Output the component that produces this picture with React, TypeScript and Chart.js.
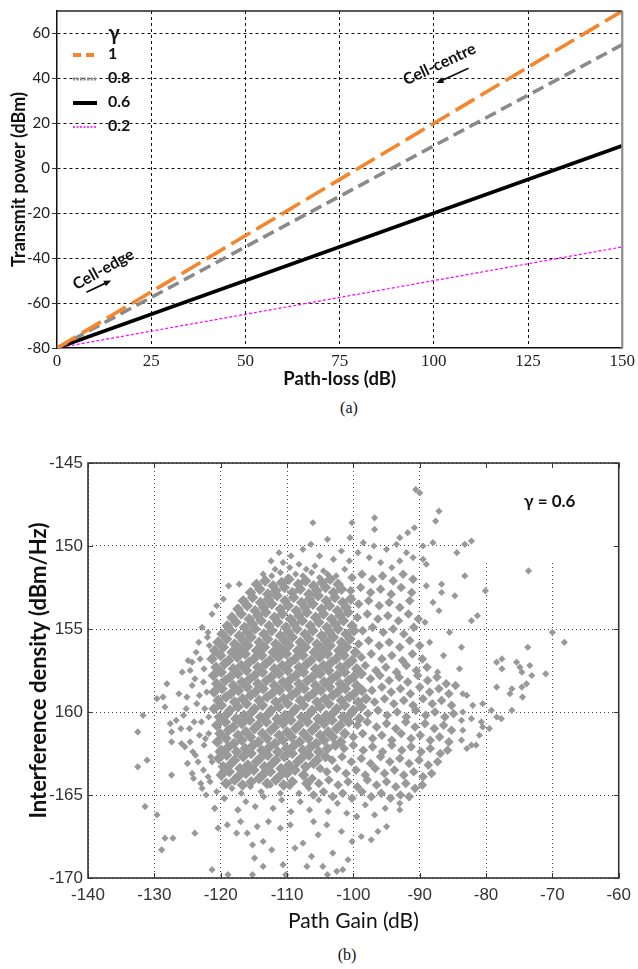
import React, { useEffect, useRef } from 'react';
import { Chart, registerables } from 'chart.js';

Chart.register(...registerables);

// ---------------- Figure (a) data ----------------
const pathLoss = [0, 150];
const gammaLabels = ['1', '0.8', '0.6', '0.2'];
const powerGamma1 = [-80, 70];
const powerGamma08 = [-80, 55];
const powerGamma06 = [-80, 10];
const powerGamma02 = [-80, -35];
const lossTicks = [0, 25, 50, 75, 100, 125, 150];
const powerTicks = [-80, -60, -40, -20, 0, 20, 40, 60];
const legendTitle = 'γ';
const cellNotes = [
  { text: 'Cell-centre', x: 101.5, y: 46.3, angle: -25, arrow: [109.2, 44.5, 100.6, 37.9] },
  { text: 'Cell-edge', x: 12.3, y: -45.0, angle: -29, arrow: [7.8, -55.2, 14.4, -49.9] },
];

// ---------------- Figure (b) data ----------------
const gainTicks = [-140, -130, -120, -110, -100, -90, -80, -70, -60];
const densityTicks = [-170, -165, -160, -155, -150, -145];
const densityTickLabels = ['-170', '-165', '160', '155', '150', '-145'];
const gammaNote = 'γ = 0.6';

// dense core of the cloud
const coreSamples: number[][] = [
  [-114.6,-152.3],[-113.3,-152.1],[-112.1,-152.4],[-110.8,-152.2],[-109.7,-152.0],[-108.3,-152.3],[-107.2,-152.1],[-106.0,-152.4],[-104.7,-152.2],[-103.5,-152.0],[-102.3,-152.3],
  [-115.5,-152.8],[-114.1,-152.6],[-112.9,-152.9],[-111.7,-152.7],[-110.4,-152.5],[-109.2,-152.8],[-108.0,-152.6],[-106.7,-152.9],[-105.5,-152.7],[-104.2,-152.5],[-103.0,-152.8],[-101.8,-152.6],
  [-116.6,-153.3],[-115.2,-153.1],[-114.0,-153.4],[-112.8,-153.2],[-111.5,-153.0],[-110.3,-153.3],[-109.0,-153.1],[-107.8,-153.4],[-106.6,-153.2],[-105.3,-153.0],[-104.1,-153.3],[-102.8,-153.1],[-101.6,-153.4],[-100.4,-153.2],
  [-117.4,-153.8],[-116.0,-153.6],[-114.8,-153.9],[-113.5,-153.7],[-112.3,-153.5],[-111.0,-153.8],[-109.8,-153.6],[-108.6,-153.9],[-107.3,-153.7],[-106.1,-153.5],[-104.8,-153.8],[-103.6,-153.6],[-102.4,-153.9],[-101.1,-153.7],
  [-118.3,-154.3],[-116.9,-154.1],[-115.7,-154.4],[-114.4,-154.2],[-113.2,-154.0],[-111.9,-154.3],[-110.7,-154.1],[-109.5,-154.4],[-108.2,-154.2],[-107.0,-154.0],[-105.7,-154.3],[-104.5,-154.1],[-103.3,-154.4],[-102.0,-154.2],[-100.8,-154.0],
  [-119.0,-154.8],[-117.7,-154.6],[-116.4,-154.9],[-115.2,-154.7],[-113.9,-154.5],[-112.7,-154.8],[-111.4,-154.6],[-110.2,-154.9],[-108.9,-154.7],[-107.7,-154.5],[-106.5,-154.8],[-105.2,-154.6],[-104.0,-154.9],[-102.7,-154.7],[-101.5,-154.5],[-100.2,-154.8],
  [-119.8,-155.3],[-118.5,-155.1],[-117.2,-155.4],[-116.0,-155.2],[-114.8,-155.0],[-113.5,-155.3],[-112.3,-155.1],[-111.0,-155.4],[-109.8,-155.2],[-108.5,-155.0],[-107.3,-155.3],[-106.1,-155.1],[-104.8,-155.4],[-103.6,-155.2],[-102.3,-155.0],[-101.1,-155.3],[-99.9,-155.1],
  [-120.4,-155.8],[-119.1,-155.6],[-117.9,-155.9],[-116.6,-155.7],[-115.4,-155.5],[-114.2,-155.8],[-112.9,-155.6],[-111.7,-155.9],[-110.4,-155.7],[-109.2,-155.5],[-108.0,-155.8],[-106.7,-155.6],[-105.5,-155.9],[-104.2,-155.7],[-103.0,-155.5],[-101.8,-155.8],[-100.5,-155.6],
  [-120.9,-156.3],[-119.6,-156.1],[-118.3,-156.4],[-117.1,-156.2],[-115.9,-156.0],[-114.6,-156.3],[-113.4,-156.1],[-112.1,-156.4],[-110.9,-156.2],[-109.7,-156.0],[-108.4,-156.3],[-107.2,-156.1],[-105.9,-156.4],[-104.7,-156.2],[-103.5,-156.0],[-102.2,-156.3],[-101.0,-156.1],[-99.7,-156.4],
  [-121.3,-156.8],[-120.0,-156.6],[-118.8,-156.9],[-117.5,-156.7],[-116.3,-156.5],[-115.0,-156.8],[-113.8,-156.6],[-112.6,-156.9],[-111.3,-156.7],[-110.1,-156.5],[-108.8,-156.8],[-107.6,-156.6],[-106.4,-156.9],[-105.1,-156.7],[-103.9,-156.5],[-102.6,-156.8],[-101.4,-156.6],[-100.2,-156.9],
  [-120.7,-157.3],[-119.4,-157.1],[-118.1,-157.4],[-116.9,-157.2],[-115.7,-157.0],[-114.4,-157.3],[-113.2,-157.1],[-111.9,-157.4],[-110.7,-157.2],[-109.5,-157.0],[-108.2,-157.3],[-107.0,-157.1],[-105.7,-157.4],[-104.5,-157.2],[-103.3,-157.0],[-102.0,-157.3],[-100.8,-157.1],[-99.5,-157.4],
  [-121.1,-157.8],[-119.9,-157.6],[-118.6,-157.9],[-117.4,-157.7],[-116.1,-157.5],[-114.9,-157.8],[-113.7,-157.6],[-112.4,-157.9],[-111.2,-157.7],[-109.9,-157.5],[-108.7,-157.8],[-107.5,-157.6],[-106.2,-157.9],[-105.0,-157.7],[-103.7,-157.5],[-102.5,-157.8],[-101.3,-157.6],[-100.0,-157.9],[-98.8,-157.7],
  [-120.6,-158.3],[-119.3,-158.1],[-118.1,-158.4],[-116.8,-158.2],[-115.6,-158.0],[-114.4,-158.3],[-113.1,-158.1],[-111.9,-158.4],[-110.6,-158.2],[-109.4,-158.0],[-108.2,-158.3],[-106.9,-158.1],[-105.7,-158.4],[-104.4,-158.2],[-103.2,-158.0],[-102.0,-158.3],[-100.7,-158.1],[-99.5,-158.4],
  [-121.0,-158.8],[-119.8,-158.6],[-118.5,-158.9],[-117.3,-158.7],[-116.0,-158.5],[-114.8,-158.8],[-113.6,-158.6],[-112.3,-158.9],[-111.1,-158.7],[-109.8,-158.5],[-108.6,-158.8],[-107.4,-158.6],[-106.1,-158.9],[-104.9,-158.7],[-103.6,-158.5],[-102.4,-158.8],[-101.2,-158.6],[-99.9,-158.9],[-98.7,-158.7],
  [-120.4,-159.3],[-119.2,-159.1],[-117.9,-159.4],[-116.7,-159.2],[-115.5,-159.0],[-114.2,-159.3],[-113.0,-159.1],[-111.7,-159.4],[-110.5,-159.2],[-109.3,-159.0],[-108.0,-159.3],[-106.8,-159.1],[-105.5,-159.4],[-104.3,-159.2],[-103.1,-159.0],[-101.8,-159.3],[-100.6,-159.1],[-99.3,-159.4],[-98.1,-159.2],
  [-121.0,-159.8],[-119.9,-159.6],[-118.6,-159.9],[-117.4,-159.7],[-116.1,-159.5],[-114.9,-159.8],[-113.7,-159.6],[-112.4,-159.9],[-111.2,-159.7],[-109.9,-159.5],[-108.7,-159.8],[-107.5,-159.6],[-106.2,-159.9],[-105.0,-159.7],[-103.7,-159.5],[-102.5,-159.8],[-101.3,-159.6],[-100.0,-159.9],[-98.8,-159.7],
  [-120.2,-160.3],[-119.0,-160.1],[-117.7,-160.4],[-116.5,-160.2],[-115.3,-160.0],[-114.0,-160.3],[-112.8,-160.1],[-111.5,-160.4],[-110.3,-160.2],[-109.1,-160.0],[-107.8,-160.3],[-106.6,-160.1],[-105.3,-160.4],[-104.1,-160.2],[-102.9,-160.0],[-101.6,-160.3],[-100.4,-160.1],[-99.1,-160.4],
  [-120.6,-160.8],[-119.3,-160.6],[-118.1,-160.9],[-116.8,-160.7],[-115.6,-160.5],[-114.4,-160.8],[-113.1,-160.6],[-111.9,-160.9],[-110.6,-160.7],[-109.4,-160.5],[-108.2,-160.8],[-106.9,-160.6],[-105.7,-160.9],[-104.4,-160.7],[-103.2,-160.5],[-102.0,-160.8],[-100.7,-160.6],
  [-120.1,-161.3],[-118.8,-161.1],[-117.4,-161.4],[-116.2,-161.2],[-114.9,-161.0],[-113.7,-161.3],[-112.4,-161.1],[-111.2,-161.4],[-110.0,-161.2],[-108.7,-161.0],[-107.5,-161.3],[-106.2,-161.1],[-105.0,-161.4],[-103.8,-161.2],[-102.5,-161.0],[-101.3,-161.3],
  [-120.5,-161.8],[-119.2,-161.6],[-118.0,-161.9],[-116.8,-161.7],[-115.5,-161.5],[-114.3,-161.8],[-113.0,-161.6],[-111.8,-161.9],[-110.6,-161.7],[-109.3,-161.5],[-108.1,-161.8],[-106.8,-161.6],[-105.6,-161.9],[-104.4,-161.7],[-103.1,-161.5],[-101.9,-161.8],
  [-119.9,-162.3],[-118.8,-162.1],[-117.6,-162.4],[-116.3,-162.2],[-115.1,-162.0],[-113.8,-162.3],[-112.6,-162.1],[-111.4,-162.4],[-110.1,-162.2],[-108.9,-162.0],[-107.6,-162.3],[-106.4,-162.1],[-105.2,-162.4],[-103.9,-162.2],[-102.7,-162.0],
  [-120.3,-162.8],[-119.1,-162.6],[-117.9,-162.9],[-116.6,-162.7],[-115.4,-162.5],[-114.1,-162.8],[-112.9,-162.6],[-111.7,-162.9],[-110.4,-162.7],[-109.2,-162.5],[-107.9,-162.8],[-106.7,-162.6],[-105.5,-162.9],[-104.2,-162.7],
  [-119.6,-163.3],[-118.4,-163.1],[-117.1,-163.4],[-115.9,-163.2],[-114.6,-163.0],[-113.4,-163.3],[-112.2,-163.1],[-110.9,-163.4],[-109.7,-163.2],[-108.4,-163.0],[-107.2,-163.3],[-106.0,-163.1],
  [-119.9,-163.8],[-118.7,-163.6],[-117.4,-163.9],[-116.2,-163.7],[-115.0,-163.5],[-113.7,-163.8],[-112.5,-163.6],[-111.2,-163.9],[-110.0,-163.7],[-108.8,-163.5],[-107.5,-163.8],
  [-119.2,-164.3],[-117.9,-164.1],[-116.7,-164.4],[-115.4,-164.2],[-114.2,-164.0],[-113.0,-164.3],[-111.7,-164.1],[-110.5,-164.4],[-109.2,-164.2],[-107.0,-164.3],
];

// moderately dense right wing and upper-right band
const wingSamples: number[][] = [
  [-100.2,-151.9],[-98.7,-151.7],[-97.1,-152.0],[-95.6,-151.8],[-94.0,-152.1],[-92.5,-151.7],[-91.0,-152.0],
  [-100.4,-152.7],[-98.9,-152.5],[-97.4,-152.8],[-95.9,-152.6],[-94.3,-152.9],[-92.8,-152.5],[-91.2,-152.8],
  [-99.2,-153.5],[-97.7,-153.3],[-96.1,-153.6],[-94.6,-153.4],[-93.0,-153.7],[-91.5,-153.3],
  [-99.4,-154.3],[-97.9,-154.1],[-96.3,-154.4],[-94.8,-154.2],[-93.2,-154.5],[-91.7,-154.1],[-90.2,-154.4],
  [-98.6,-155.1],[-97.1,-154.9],[-95.5,-155.2],[-94.0,-155.0],[-92.4,-155.3],[-90.9,-154.9],
  [-99.2,-155.9],[-97.7,-155.7],[-96.1,-156.0],[-94.6,-155.8],[-93.0,-156.1],[-91.5,-155.7],[-90.0,-156.0],
  [-98.8,-156.7],[-97.3,-156.5],[-95.7,-156.8],[-94.2,-156.6],[-92.6,-156.9],[-91.1,-156.5],[-89.6,-156.8],
  [-98.2,-157.2],[-96.6,-157.5],[-95.1,-157.3],[-93.5,-157.6],[-92.0,-157.2],[-90.5,-157.5],[-88.9,-157.3],
  [-97.4,-158.0],[-96.0,-157.8],[-94.6,-158.1],[-93.1,-157.9],[-91.8,-158.2],[-90.3,-157.8],[-88.8,-158.1],[-87.4,-157.9],[-86.0,-158.3],
  [-97.2,-158.7],[-95.7,-158.5],[-94.3,-158.8],[-92.9,-158.6],[-91.4,-158.9],[-90.0,-158.5],[-88.5,-158.8],[-87.1,-158.6],[-85.6,-158.9],[-84.6,-158.4],
  [-96.8,-159.4],[-95.3,-159.2],[-93.9,-159.5],[-92.4,-159.3],[-91.0,-159.6],[-89.5,-159.2],[-88.1,-159.5],[-86.7,-159.3],[-85.2,-159.6],
  [-97.8,-160.1],[-96.3,-159.9],[-94.9,-160.2],[-93.4,-160.0],[-92.0,-160.3],[-90.6,-159.9],[-89.1,-160.2],[-87.7,-160.0],[-86.2,-160.3],[-84.9,-160.1],
  [-99.4,-160.8],[-97.9,-160.6],[-96.5,-160.9],[-95.0,-160.7],[-93.6,-161.0],[-92.1,-160.6],[-90.7,-160.9],[-89.2,-160.7],[-87.8,-161.0],[-86.4,-160.8],[-85.2,-161.1],
  [-100.0,-161.5],[-98.6,-161.3],[-97.1,-161.6],[-95.7,-161.4],[-94.2,-161.7],[-92.8,-161.3],[-91.3,-161.6],[-89.9,-161.4],[-88.4,-161.7],[-87.0,-161.5],[-85.6,-161.8],
  [-101.4,-162.2],[-100.0,-162.0],[-98.5,-162.3],[-97.1,-162.1],[-95.6,-162.4],[-94.2,-162.0],[-92.7,-162.3],[-91.3,-162.1],[-89.8,-162.4],[-88.4,-162.2],[-86.9,-162.5],[-85.8,-162.3],
  [-103.2,-162.9],[-101.7,-162.7],[-100.3,-163.0],[-98.8,-162.8],[-97.4,-163.1],[-95.9,-162.7],[-94.5,-163.0],[-93.0,-162.8],[-91.6,-163.1],[-90.1,-162.9],[-88.7,-163.2],[-87.3,-163.0],
  [-105.0,-163.4],[-104.0,-163.6],[-102.5,-163.4],[-101.1,-163.7],[-99.6,-163.5],[-98.2,-163.8],[-96.7,-163.4],[-95.3,-163.7],[-93.8,-163.5],[-92.4,-163.8],[-90.9,-163.6],[-89.5,-163.9],[-88.2,-163.7],
  [-106.2,-164.0],[-105.2,-164.3],[-103.7,-164.1],[-102.3,-164.4],[-100.8,-164.2],[-99.4,-164.5],[-97.9,-164.1],[-96.5,-164.4],[-95.0,-164.2],[-93.6,-164.5],[-92.1,-164.3],[-90.7,-164.6],[-89.6,-164.4],
  [-106.0,-165.0],[-104.5,-164.8],[-103.1,-165.1],[-101.6,-164.9],[-100.2,-165.2],[-98.7,-164.8],[-97.3,-165.1],[-95.8,-164.9],[-94.4,-165.2],[-92.9,-165.0],[-91.6,-165.1],
];

// fringe around the cloud
const fringeSamples: number[][] = [
  [-111.8,-151.4],[-110.6,-151.0],[-109.6,-151.3],[-108.2,-151.1],[-107.1,-151.4],[-105.8,-151.2],
  [-113.6,-151.7],[-112.3,-151.8],[-111.0,-151.6],[-109.9,-151.9],[-108.7,-151.7],[-107.6,-151.8],[-106.3,-151.6],[-105.1,-151.9],[-103.9,-151.7],
  [-112.4,-150.9],[-111.2,-150.4],[-109.4,-150.6],[-107.6,-150.2],[-106.4,-149.9],[-105.1,-150.6],[-103.9,-149.6],[-103.0,-150.8],[-101.8,-150.3],[-100.5,-149.5],
  [-100.6,-150.9],[-99.3,-150.4],[-98.5,-149.8],[-97.6,-150.7],[-96.9,-150.0],[-95.9,-151.0],[-95.0,-150.2],[-94.2,-151.3],[-93.5,-149.9],[-93.0,-150.9],
  [-92.0,-150.4],[-91.0,-150.7],[-89.5,-150.0],[-89.0,-151.1],[-88.0,-149.8],[-104.5,-151.5],[-102.6,-151.8],[-101.3,-151.4],
  [-117.2,-152.3],[-119.6,-153.2],[-121.3,-154.1],[-120.6,-153.6],[-118.8,-152.4],
  [-122.8,-154.9],[-121.9,-155.2],[-123.3,-155.8],[-123.7,-156.4],[-123.1,-156.8],[-124.3,-157.0],[-124.6,-157.5],[-122.6,-158.2],[-123.2,-159.0],
  [-122.4,-159.8],[-122.9,-160.6],[-121.8,-161.3],[-122.5,-162.0],[-121.3,-163.0],[-120.4,-162.4],[-119.8,-163.6],[-118.8,-164.3],[-120.6,-164.8],[-119.4,-165.2],
  [-125.8,-157.6],[-124.9,-156.9],[-126.3,-158.9],[-125.2,-159.8],[-126.7,-160.5],[-124.7,-161.0],[-125.9,-161.9],[-124.2,-162.4],[-125.0,-163.1],[-123.4,-163.0],
  [-124.1,-164.0],[-122.8,-164.6],[-121.9,-163.9],[-121.5,-162.7],[-122.3,-161.6],[-121.8,-160.3],[-122.1,-158.8],[-122.5,-157.4],[-121.7,-156.0],[-122.0,-155.5],
  [-124.3,-158.4],[-123.9,-158.0],[-125.1,-159.1],[-123.6,-159.5],[-125.6,-160.2],[-124.0,-160.6],[-126.0,-161.0],[-123.2,-161.4],[-123.8,-162.6],[-122.6,-163.5],
  [-123.0,-164.3],[-121.6,-164.2],[-122.2,-165.0],
  [-118.3,-164.6],[-116.9,-164.9],[-115.5,-164.5],[-113.9,-164.8],[-112.5,-164.4],[-111.0,-164.9],[-109.6,-164.5],[-108.2,-164.9],[-106.7,-164.6],
  [-120.9,-165.8],[-119.5,-165.2],[-117.4,-165.9],[-116.2,-165.4],[-114.8,-165.7],[-113.5,-165.1],[-112.1,-165.8],[-110.8,-165.3],[-109.4,-166.0],[-108.0,-165.4],
  [-106.6,-165.9],[-105.2,-165.3],[-103.8,-166.0],[-102.4,-165.5],[-101.0,-166.1],[-99.5,-166.3],[-98.2,-165.6],[-96.8,-166.2],[-95.2,-165.8],[-93.0,-165.5],[-93.0,-165.9],
];

// isolated points
const sparseSamples: number[][] = [
  [-106.1,-148.6],[-100.2,-148.6],[-96.8,-148.3],[-96.8,-149.0],[-93.0,-149.5],[-91.8,-149.2],[-90.8,-148.9],[-90.6,-146.6],[-90.0,-146.8],[-87.1,-147.9],
  [-87.6,-148.5],[-84.4,-150.4],[-83.2,-149.9],[-82.2,-149.7],
  [-89.0,-152.4],[-86.7,-152.3],[-86.7,-152.8],[-84.7,-153.0],[-88.0,-153.4],[-87.1,-153.9],[-83.2,-151.8],[-80.1,-152.7],[-81.3,-154.2],[-82.2,-154.5],
  [-85.5,-155.2],[-88.5,-155.8],[-83.7,-156.1],[-86.4,-156.6],[-89.2,-154.6],[-84.0,-157.4],[-87.3,-157.6],[-89.5,-150.8],
  [-73.6,-151.5],[-70.0,-155.2],[-68.2,-155.8],[-73.7,-156.1],[-77.6,-156.8],[-78.4,-157.0],[-77.6,-157.4],[-75.4,-157.0],[-74.9,-157.3],[-74.6,-157.6],
  [-73.4,-157.2],[-73.1,-157.8],[-71.0,-157.7],
  [-83.5,-158.9],[-82.9,-159.0],[-78.4,-158.5],[-76.1,-158.6],[-74.6,-158.5],[-73.9,-158.3],[-76.4,-158.9],[-74.5,-159.1],[-82.0,-159.6],[-80.5,-159.5],
  [-79.2,-159.9],[-77.7,-160.4],[-76.1,-159.9],[-78.4,-160.3],[-83.5,-160.0],[-83.7,-160.5],[-82.2,-160.4],[-80.7,-160.6],[-80.5,-160.9],[-79.5,-161.0],
  [-81.0,-161.4],[-83.5,-161.1],[-83.7,-161.7],[-82.9,-162.2],[-82.2,-162.0],[-81.5,-162.0],
  [-128.1,-158.3],[-129.6,-159.2],[-128.7,-159.1],[-128.4,-159.7],[-131.7,-160.2],[-132.5,-161.2],[-127.6,-160.7],[-127.4,-161.2],[-127.4,-161.8],[-125.4,-162.1],
  [-124.6,-161.8],[-131.1,-162.9],[-132.5,-163.3],[-127.4,-163.8],[-124.3,-163.7],[-131.4,-165.7],[-129.6,-166.2],[-128.4,-167.6],[-127.2,-167.6],[-128.9,-168.3],
  [-117.6,-167.3],[-116.0,-167.3],[-115.2,-168.0],[-113.6,-167.8],[-114.9,-168.8],[-113.6,-169.3],[-112.3,-168.3],[-115.2,-169.8],[-110.6,-169.2],[-110.2,-169.8],
  [-118.9,-169.8],[-121.3,-169.5],[-123.9,-167.3],[-111.0,-167.0],[-109.5,-166.8],[-108.8,-168.2],[-107.6,-167.9],[-107.0,-169.3],[-106.3,-168.7],[-105.3,-167.4],
  [-104.6,-169.3],[-103.9,-169.8],[-103.1,-168.5],[-102.5,-169.6],[-101.6,-169.5],[-100.8,-168.9],[-101.8,-167.2],[-98.8,-167.5],[-97.3,-167.7],[-96.3,-167.2],
  [-95.0,-166.9],[-100.2,-167.8],[-104.0,-166.8],[-106.0,-166.6],[-112.8,-166.6],[-114.5,-166.9],[-117.0,-166.6],[-119.0,-166.8],[-120.4,-167.0],
  [-120.9,-165.8],[-117.4,-165.9],[-99.5,-166.3],
];

const toPoints = (arr: number[][]) => arr.map(([x, y]) => ({ x, y }));
const linePoints = (ys: number[]) => pathLoss.map((x, i) => ({ x, y: ys[i] }));

// ---------------- plugins for (a) ----------------
const legendSwatches = [
  { dash: [8, 5], width: 4 },
  { dash: [2.2, 1.3], width: 3 },
  { dash: [], width: 4 },
  { dash: [2, 1.5], width: 1.3 },
];

const frameA = {
  id: 'frameA',
  afterDatasetsDraw(chart: any) {
    const { ctx, chartArea: { left, right, top, bottom } } = chart;
    ctx.save();
    ctx.strokeStyle = '#222';
    ctx.lineWidth = 1.3;
    ctx.beginPath();
    ctx.moveTo(left, top);
    ctx.lineTo(right, top);
    ctx.stroke();
    ctx.strokeStyle = '#8c8c8c';
    ctx.lineWidth = 2.2;
    ctx.beginPath();
    ctx.moveTo(right, top);
    ctx.lineTo(right, bottom);
    ctx.stroke();
    ctx.restore();
  },
};

const legendA = {
  id: 'legendA',
  afterDatasetsDraw(chart: any) {
    const { ctx, chartArea: { left, top } } = chart;
    ctx.save();
    ctx.fillStyle = '#111';
    ctx.textBaseline = 'middle';
    ctx.textAlign = 'center';
    ctx.font = 'bold 20px Lato, "DejaVu Sans"';
    ctx.fillText(legendTitle, left + 57, top + 23);
    chart.data.datasets.forEach((ds: any, i: number) => {
      const cy = top + 44 + 24 * i;
      const sw = legendSwatches[i];
      ctx.beginPath();
      ctx.strokeStyle = ds.borderColor;
      ctx.lineWidth = sw.width;
      ctx.setLineDash(sw.dash);
      ctx.moveTo(left + 16, cy);
      ctx.lineTo(left + 40, cy);
      ctx.stroke();
      ctx.setLineDash([]);
      ctx.font = 'bold 16px Lato';
      ctx.textAlign = 'left';
      ctx.fillText(ds.label, left + 51, cy - 1);
    });
    ctx.restore();
  },
};

const notesA = {
  id: 'notesA',
  afterDatasetsDraw(chart: any) {
    const { ctx, scales: { x, y } } = chart;
    ctx.save();
    cellNotes.forEach((n) => {
      ctx.save();
      ctx.translate(x.getPixelForValue(n.x), y.getPixelForValue(n.y));
      ctx.rotate((n.angle * Math.PI) / 180);
      ctx.font = 'bold 16px Lato';
      ctx.fillStyle = '#111';
      ctx.textAlign = 'center';
      ctx.textBaseline = 'middle';
      ctx.fillText(n.text, 0, 0);
      ctx.restore();
      const x1 = x.getPixelForValue(n.arrow[0]);
      const y1 = y.getPixelForValue(n.arrow[1]);
      const x2 = x.getPixelForValue(n.arrow[2]);
      const y2 = y.getPixelForValue(n.arrow[3]);
      const ang = Math.atan2(y2 - y1, x2 - x1);
      ctx.strokeStyle = '#111';
      ctx.fillStyle = '#111';
      ctx.lineWidth = 1.8;
      ctx.beginPath();
      ctx.moveTo(x1, y1);
      ctx.lineTo(x2 - 4 * Math.cos(ang), y2 - 4 * Math.sin(ang));
      ctx.stroke();
      ctx.beginPath();
      ctx.moveTo(x2, y2);
      ctx.lineTo(x2 - 8 * Math.cos(ang - 0.4), y2 - 8 * Math.sin(ang - 0.4));
      ctx.lineTo(x2 - 8 * Math.cos(ang + 0.4), y2 - 8 * Math.sin(ang + 0.4));
      ctx.closePath();
      ctx.fill();
    });
    ctx.restore();
  },
};

// ---------------- plugins for (b) ----------------
const noteBoxB = { gain: [-82.3, -60.2], density: [-151.0, -145.1] };

const maskB = {
  id: 'maskB',
  beforeDatasetsDraw(chart: any) {
    const { ctx, scales: { x, y } } = chart;
    const l = x.getPixelForValue(noteBoxB.gain[0]);
    const r = x.getPixelForValue(noteBoxB.gain[1]);
    const t = y.getPixelForValue(noteBoxB.density[1]);
    const b = y.getPixelForValue(noteBoxB.density[0]);
    ctx.save();
    ctx.fillStyle = '#ffffff';
    ctx.fillRect(l, t, r - l, b - t);
    ctx.restore();
  },
};

const frameB = {
  id: 'frameB',
  afterDatasetsDraw(chart: any) {
    const { ctx, chartArea: { left, right, top, bottom }, scales: { x, y } } = chart;
    ctx.save();
    ctx.strokeStyle = '#3a3a3a';
    ctx.lineWidth = 1;
    ctx.beginPath();
    gainTicks.forEach((v) => {
      const px = Math.round(x.getPixelForValue(v)) + 0.5;
      ctx.moveTo(px, top);
      ctx.lineTo(px, top + 5);
      ctx.moveTo(px, bottom);
      ctx.lineTo(px, bottom - 5);
    });
    densityTicks.forEach((v) => {
      const py = Math.round(y.getPixelForValue(v)) + 0.5;
      ctx.moveTo(left, py);
      ctx.lineTo(left + 5, py);
      ctx.moveTo(right, py);
      ctx.lineTo(right - 5, py);
    });
    ctx.stroke();
    ctx.lineWidth = 1.6;
    ctx.strokeStyle = '#333';
    ctx.strokeRect(left, top, right - left, bottom - top);
    ctx.fillStyle = '#111';
    ctx.font = 'bold 17px Lato, "DejaVu Sans"';
    ctx.textAlign = 'center';
    ctx.textBaseline = 'middle';
    ctx.fillText(gammaNote, x.getPixelForValue(-70.4), y.getPixelForValue(-147.3));
    ctx.restore();
  },
};

function PowerChart() {
  const ref = useRef<HTMLCanvasElement>(null);
  useEffect(() => {
    const colors = ['#f6862c', '#8a8a8a', '#000000', '#ff00ff'];
    const widths = [3.6, 3.6, 3.6, 1.2];
    const dashes = [[22, 7], [12, 6], [], [3, 2]];
    const series = [powerGamma1, powerGamma08, powerGamma06, powerGamma02];
    const chart = new Chart(ref.current as HTMLCanvasElement, {
      type: 'line',
      data: {
        datasets: series.map((ys, i) => ({
          label: gammaLabels[i],
          data: linePoints(ys),
          borderColor: colors[i],
          backgroundColor: colors[i],
          borderWidth: widths[i],
          borderDash: dashes[i],
          pointRadius: 0,
          fill: false,
          tension: 0,
        })),
      },
      options: {
        animation: false,
        responsive: false,
        layout: { padding: { left: 0, right: 7, top: 10, bottom: 0 } },
        plugins: { legend: { display: false }, tooltip: { enabled: false } },
        scales: {
          x: {
            type: 'linear',
            min: 0,
            max: 150,
            afterBuildTicks: (s: any) => { s.ticks = lossTicks.map((v) => ({ value: v })); },
            afterFit: (s: any) => { s.height = 48; },
            grid: {
              color: (c: any) => (c.tick && (c.tick.value === 0 || c.tick.value === 150) ? 'rgba(0,0,0,0)' : '#111'),
              lineWidth: 1,
              drawTicks: false,
            },
            border: { display: true, color: '#111', width: 1.5, dash: [3, 3] },
            ticks: {
              padding: 3,
              color: '#222',
              font: { family: '"Liberation Serif", serif', size: 17 },
              maxRotation: 0,
              callback: (v: any) => String(v),
            },
            title: {
              display: true,
              text: 'Path-loss (dB)',
              color: '#111',
              font: { family: 'Lato', weight: 'bold', size: 18.5 },
              padding: { top: 0, bottom: 6 },
            },
          },
          y: {
            type: 'linear',
            min: -80,
            max: 70,
            afterBuildTicks: (s: any) => { s.ticks = powerTicks.map((v) => ({ value: v })); },
            afterFit: (s: any) => { s.width = 57; },
            grid: {
              color: (c: any) => (c.tick && c.tick.value === -80 ? 'rgba(0,0,0,0)' : '#111'),
              lineWidth: 1,
              drawTicks: true,
              tickLength: 5,
              tickColor: '#333',
              tickWidth: 1,
            },
            border: { display: true, color: '#111', width: 1.5, dash: [3, 3] },
            ticks: {
              padding: 2,
              color: '#222',
              font: { family: 'Lato', size: 15 },
              callback: (v: any) => String(v),
            },
            title: {
              display: true,
              text: 'Transmit power (dBm)',
              color: '#111',
              font: { family: 'Lato', weight: 'bold', size: 18 },
              padding: { top: 8, bottom: 0 },
            },
          },
        },
      } as any,
      plugins: [frameA, legendA, notesA],
    });
    return () => chart.destroy();
  }, []);
  return (
    <canvas
      ref={ref}
      width={638}
      height={396}
      style={{ position: 'absolute', left: 0, top: 0, width: 638, height: 396 }}
    />
  );
}

function InterferenceChart() {
  const ref = useRef<HTMLCanvasElement>(null);
  useEffect(() => {
    const grey = '#999999';
    const cloud = (label: string, pts: number[][], r: number) => ({
      label,
      data: toPoints(pts),
      pointStyle: 'rectRot',
      pointRadius: r,
      pointBorderWidth: 0,
      backgroundColor: grey,
      borderColor: grey,
    });
    const tickFont = { family: '"Liberation Sans Narrow", "Liberation Sans", Arial', size: 17 };
    const chart = new Chart(ref.current as HTMLCanvasElement, {
      type: 'scatter',
      data: {
        datasets: [
          cloud('core', coreSamples, 5.8),
          cloud('wing', wingSamples, 4.8),
          cloud('samples', [...fringeSamples, ...sparseSamples], 3.6),
        ],
      },
      options: {
        animation: false,
        responsive: false,
        layout: { padding: { left: 0, right: 19, top: 23, bottom: 0 } },
        plugins: { legend: { display: false }, tooltip: { enabled: false } },
        scales: {
          x: {
            type: 'linear',
            min: -140,
            max: -60,
            afterBuildTicks: (s: any) => { s.ticks = gainTicks.map((v) => ({ value: v })); },
            afterFit: (s: any) => { s.height = 62; },
            grid: { color: '#444', lineWidth: 1, drawTicks: false },
            border: { display: false, dash: [1, 3] },
            ticks: {
              padding: 7,
              color: '#333',
              font: tickFont,
              maxRotation: 0,
              callback: (v: any) => String(v),
            },
            title: {
              display: true,
              text: 'Path Gain (dB)',
              color: '#111',
              font: { family: 'Lato', size: 21 },
              padding: { top: 0, bottom: 6 },
            },
          },
          y: {
            type: 'linear',
            min: -170,
            max: -145,
            afterBuildTicks: (s: any) => { s.ticks = densityTicks.map((v) => ({ value: v })); },
            afterFit: (s: any) => { s.width = 88; },
            grid: { color: '#444', lineWidth: 1, drawTicks: false },
            border: { display: false, dash: [1, 3] },
            ticks: {
              padding: 5,
              color: '#333',
              font: tickFont,
              callback: (v: any) => densityTickLabels[densityTicks.indexOf(v)],
            },
            title: {
              display: true,
              text: 'Interference density (dBm/Hz)',
              color: '#111',
              font: { family: 'Lato', weight: 'bold', size: 22 },
              padding: { top: 26, bottom: 0 },
            },
          },
        },
      } as any,
      plugins: [maskB, frameB],
    });
    return () => chart.destroy();
  }, []);
  return (
    <canvas
      ref={ref}
      width={638}
      height={500}
      style={{ position: 'absolute', left: 0, top: 440, width: 638, height: 500 }}
    />
  );
}

const captionStyle: React.CSSProperties = {
  position: 'absolute',
  width: 40,
  textAlign: 'center',
  fontFamily: '"Liberation Serif", "Times New Roman", serif',
  fontSize: 16,
  lineHeight: '18px',
  color: '#111',
};

export default function App() {
  return (
    <div style={{ position: 'absolute', left: 0, top: 0, width: 638, height: 969, background: '#fff', overflow: 'hidden' }}>
      <PowerChart />
      <div style={{ ...captionStyle, left: 329, top: 399 }}>(a)</div>
      <InterferenceChart />
      <div style={{ ...captionStyle, left: 327, top: 946 }}>(b)</div>
    </div>
  );
}
